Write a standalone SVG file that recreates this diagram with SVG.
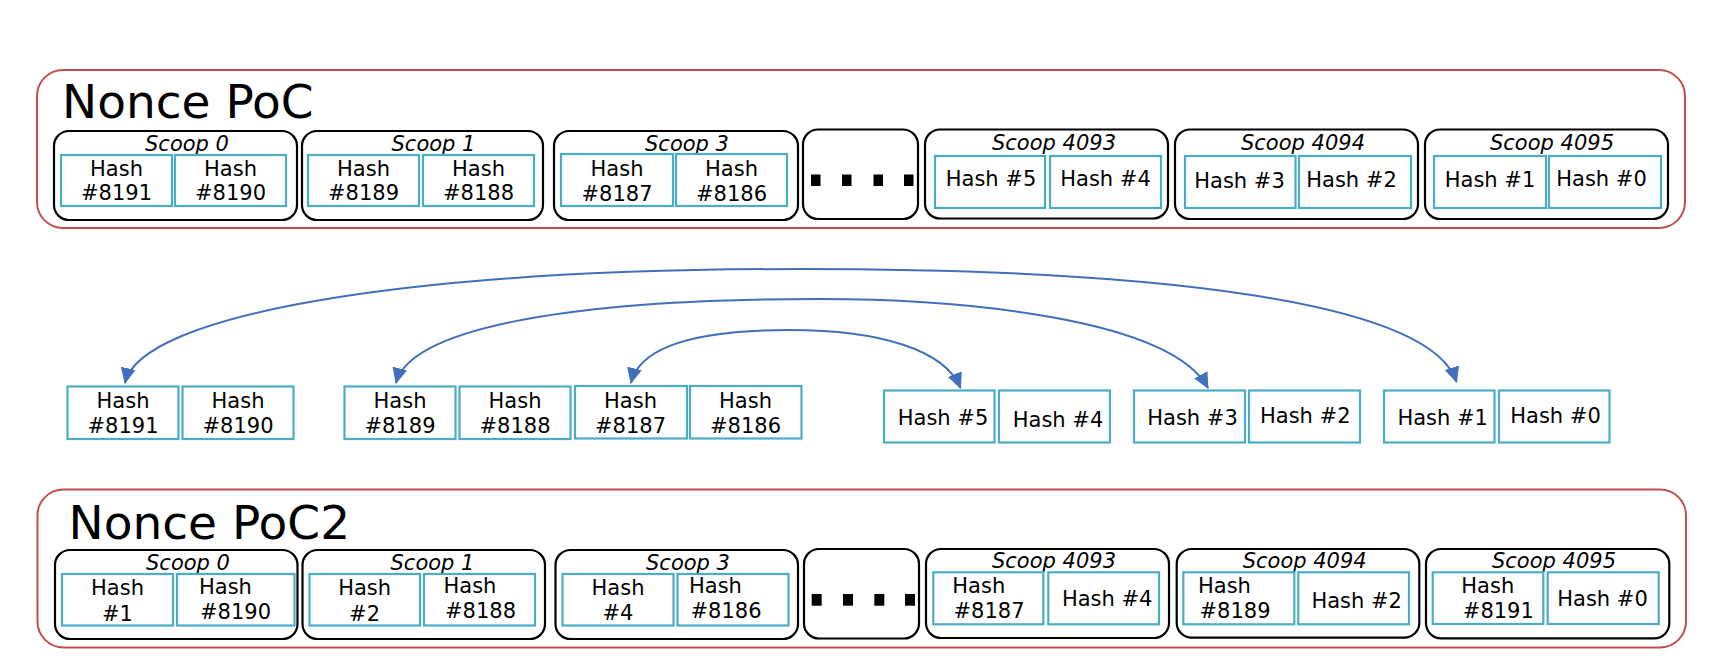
<svg xmlns="http://www.w3.org/2000/svg" width="1722" height="672" viewBox="0 0 1722 672">
<style>
.frame{fill:none;stroke:#c0504d;stroke-width:2}
.scoop{fill:#fff;stroke:#000;stroke-width:2.2}
.hash{fill:#fff;stroke:#4bacc6;stroke-width:2.2}
text{font-family:"DejaVu Sans","Liberation Sans",sans-serif;font-size:21px;fill:#000}
.c{text-anchor:middle}
.lbl{font-style:italic;font-size:21px;text-anchor:middle}
.title{font-size:47px}
.dot{fill:#000}
.arr{fill:none;stroke:#4070bb;stroke-width:2;marker-start:url(#ah);marker-end:url(#ah)}
</style>
<defs>
<marker id="ah" viewBox="0 0 16 16" refX="15" refY="8" markerWidth="16" markerHeight="16" markerUnits="userSpaceOnUse" orient="auto-start-reverse">
<path d="M0,0.5 L16,8 L0,15.5 z" fill="#4070bb"/>
</marker>
</defs>
<rect width="1722" height="672" fill="#fff"/>

<!-- Nonce PoC -->
<g id="nonce-poc">
<rect class="frame" x="37" y="70" width="1648" height="158" rx="26"/>
<text class="title" x="62" y="118">Nonce PoC</text>
</g>
<g id="poc-scoop0">
<rect class="scoop" x="54" y="131" width="243" height="89" rx="15"/>
<text class="lbl" x="187" y="150.5">Scoop 0</text>
<rect class="hash" x="61" y="155" width="111" height="51"/>
<text class="c" x="116.5" y="176">Hash</text><text class="c" x="116.5" y="200">#8191</text>
<rect class="hash" x="175" y="155" width="111" height="51"/>
<text class="c" x="230.5" y="176">Hash</text><text class="c" x="230.5" y="200">#8190</text>
</g>
<g id="poc-scoop1">
<rect class="scoop" x="302" y="131" width="241" height="89" rx="15"/>
<text class="lbl" x="433.5" y="150.5">Scoop 1</text>
<rect class="hash" x="308" y="155" width="111" height="51"/>
<text class="c" x="363.5" y="176">Hash</text><text class="c" x="363.5" y="200">#8189</text>
<rect class="hash" x="423" y="155" width="111" height="51"/>
<text class="c" x="478.5" y="176">Hash</text><text class="c" x="478.5" y="200">#8188</text>
</g>
<g id="poc-scoop3">
<rect class="scoop" x="554" y="131" width="244" height="89" rx="15"/>
<text class="lbl" x="687" y="150.5">Scoop 3</text>
<rect class="hash" x="561" y="154" width="112" height="52"/>
<text class="c" x="617" y="176">Hash</text><text class="c" x="617" y="200.5">#8187</text>
<rect class="hash" x="676" y="154" width="111" height="52"/>
<text class="c" x="731.5" y="176">Hash</text><text class="c" x="731.5" y="200.5">#8186</text>
</g>
<g id="poc-dots">
<rect class="scoop" x="803" y="129.5" width="115" height="89.5" rx="15"/>
<rect class="dot" x="811" y="174.5" width="9.5" height="11.5"/>
<rect class="dot" x="842" y="174.5" width="9.5" height="11.5"/>
<rect class="dot" x="873.5" y="174.5" width="9.5" height="11.5"/>
<rect class="dot" x="904" y="174.5" width="9.5" height="11.5"/>
</g>
<g id="poc-scoop4093">
<rect class="scoop" x="925" y="129.5" width="243" height="89" rx="15"/>
<text class="lbl" x="1054" y="150">Scoop 4093</text>
<rect class="hash" x="935" y="156" width="110" height="52"/>
<text class="c" x="991" y="186">Hash #5</text>
<rect class="hash" x="1050" y="156" width="111" height="52"/>
<text class="c" x="1105.5" y="186">Hash #4</text>
</g>
<g id="poc-scoop4094">
<rect class="scoop" x="1175" y="129.5" width="243" height="89.5" rx="15"/>
<text class="lbl" x="1303" y="149.5">Scoop 4094</text>
<rect class="hash" x="1185" y="156" width="110.5" height="52"/>
<text class="c" x="1239.5" y="188.3">Hash #3</text>
<rect class="hash" x="1299" y="156" width="112" height="52"/>
<text class="c" x="1351.5" y="186.7">Hash #2</text>
</g>
<g id="poc-scoop4095">
<rect class="scoop" x="1425" y="129.5" width="243" height="89.5" rx="15"/>
<text class="lbl" x="1552" y="149.5">Scoop 4095</text>
<rect class="hash" x="1434" y="156" width="112" height="52"/>
<text class="c" x="1490" y="186.7">Hash #1</text>
<rect class="hash" x="1549" y="156" width="112" height="52"/>
<text class="c" x="1601.5" y="185.7">Hash #0</text>
</g>

<!-- middle row -->
<g id="m-8191"><rect class="hash" x="67.5" y="386.5" width="111" height="52.5"/><text class="c" x="123" y="408">Hash</text><text class="c" x="123" y="433">#8191</text></g>
<g id="m-8190"><rect class="hash" x="182.5" y="386.5" width="111" height="52.5"/><text class="c" x="238" y="408">Hash</text><text class="c" x="238" y="433">#8190</text></g>
<g id="m-8189"><rect class="hash" x="344.5" y="386.5" width="111" height="52.5"/><text class="c" x="400" y="408">Hash</text><text class="c" x="400" y="433">#8189</text></g>
<g id="m-8188"><rect class="hash" x="459.5" y="386.5" width="111" height="52.5"/><text class="c" x="515" y="408">Hash</text><text class="c" x="515" y="433">#8188</text></g>
<g id="m-8187"><rect class="hash" x="575" y="386" width="112" height="52.5"/><text class="c" x="630.5" y="407.5">Hash</text><text class="c" x="630.5" y="432.5">#8187</text></g>
<g id="m-8186"><rect class="hash" x="690" y="386" width="111.5" height="52.5"/><text class="c" x="745.5" y="407.5">Hash</text><text class="c" x="745.5" y="432.5">#8186</text></g>
<g id="m-5"><rect class="hash" x="884" y="390.5" width="110.5" height="52"/><text class="c" x="943" y="425">Hash #5</text></g>
<g id="m-4"><rect class="hash" x="999" y="390.5" width="111" height="52"/><text class="c" x="1058" y="426.7">Hash #4</text></g>
<g id="m-3"><rect class="hash" x="1134" y="390.5" width="111" height="52"/><text class="c" x="1192.5" y="425">Hash #3</text></g>
<g id="m-2"><rect class="hash" x="1249" y="390.5" width="111" height="52"/><text class="c" x="1305.3" y="423.3">Hash #2</text></g>
<g id="m-1"><rect class="hash" x="1384" y="390.5" width="110.5" height="52"/><text class="c" x="1442.7" y="425">Hash #1</text></g>
<g id="m-0"><rect class="hash" x="1499" y="390.5" width="110.5" height="52"/><text class="c" x="1555.5" y="423.3">Hash #0</text></g>

<!-- connectors -->
<g id="connectors">
<path class="arr" d="M125,383 C140,315 400,269 800,269 C1150,269 1430,300 1456.5,382"/>
<path class="arr" d="M396,383 C410,330 560,299 820,299 C960,299 1170,318 1208,388"/>
<path class="arr" d="M631,383 C640,345 700,330 790,330 C880,330 945,350 960.5,388"/>
</g>

<!-- Nonce PoC2 -->
<g id="nonce-poc2">
<rect class="frame" x="37.5" y="489.5" width="1648.5" height="158" rx="26"/>
<text class="title" x="68.5" y="539">Nonce PoC2</text>
</g>
<g id="poc2-scoop0">
<rect class="scoop" x="55" y="550" width="242.5" height="89" rx="15"/>
<text class="lbl" x="188" y="570">Scoop 0</text>
<rect class="hash" x="62" y="574" width="111" height="51.5"/>
<text class="c" x="117.5" y="595">Hash</text><text class="c" x="117.5" y="620.5">#1</text>
<rect class="hash" x="177" y="574" width="117.5" height="51.5"/>
<text x="199" y="594.3">Hash</text><text x="200" y="619.3">#8190</text>
</g>
<g id="poc2-scoop1">
<rect class="scoop" x="302.5" y="550" width="242.5" height="89" rx="15"/>
<text class="lbl" x="432.5" y="570">Scoop 1</text>
<rect class="hash" x="309.5" y="574" width="110.5" height="51.5"/>
<text class="c" x="364.6" y="595">Hash</text><text class="c" x="364.6" y="620.5">#2</text>
<rect class="hash" x="424" y="574" width="111" height="51.5"/>
<text x="443.5" y="593.3">Hash</text><text x="445" y="617.7">#8188</text>
</g>
<g id="poc2-scoop3">
<rect class="scoop" x="555.5" y="550" width="242.5" height="89" rx="15"/>
<text class="lbl" x="688" y="570">Scoop 3</text>
<rect class="hash" x="562.5" y="574" width="111" height="51.5"/>
<text class="c" x="618" y="595">Hash</text><text class="c" x="618" y="620">#4</text>
<rect class="hash" x="677.5" y="574" width="111" height="51.5"/>
<text x="689" y="593.3">Hash</text><text x="690.5" y="618.3">#8186</text>
</g>
<g id="poc2-dots">
<rect class="scoop" x="804" y="549" width="115" height="89.5" rx="15"/>
<rect class="dot" x="811.7" y="594" width="10" height="11.7"/>
<rect class="dot" x="843" y="594" width="10" height="11.7"/>
<rect class="dot" x="874.3" y="594" width="10" height="11.7"/>
<rect class="dot" x="905" y="594" width="10" height="11.7"/>
</g>
<g id="poc2-scoop4093">
<rect class="scoop" x="926" y="549" width="243" height="89" rx="15"/>
<text class="lbl" x="1054" y="568.3">Scoop 4093</text>
<rect class="hash" x="933.3" y="572.3" width="110" height="52"/>
<text x="952.3" y="593.3">Hash</text><text x="953.5" y="618.3">#8187</text>
<rect class="hash" x="1048.3" y="572.3" width="110.7" height="52"/>
<text class="c" x="1107.2" y="606">Hash #4</text>
</g>
<g id="poc2-scoop4094">
<rect class="scoop" x="1176.7" y="549" width="242.6" height="88.7" rx="15"/>
<text class="lbl" x="1304.7" y="568.3">Scoop 4094</text>
<rect class="hash" x="1183.3" y="572.3" width="111" height="52"/>
<text x="1198" y="593.3">Hash</text><text x="1199.5" y="618.3">#8189</text>
<rect class="hash" x="1298.3" y="572.3" width="110.7" height="52"/>
<text class="c" x="1356.7" y="608.3">Hash #2</text>
</g>
<g id="poc2-scoop4095">
<rect class="scoop" x="1426" y="549" width="243.3" height="89.3" rx="15"/>
<text class="lbl" x="1554" y="568.3">Scoop 4095</text>
<rect class="hash" x="1432.7" y="572.3" width="110.6" height="51.7"/>
<text x="1461.3" y="593.3">Hash</text><text x="1462.8" y="618.3">#8191</text>
<rect class="hash" x="1547.7" y="572.3" width="111" height="51.7"/>
<text class="c" x="1602.5" y="606">Hash #0</text>
</g>
</svg>
